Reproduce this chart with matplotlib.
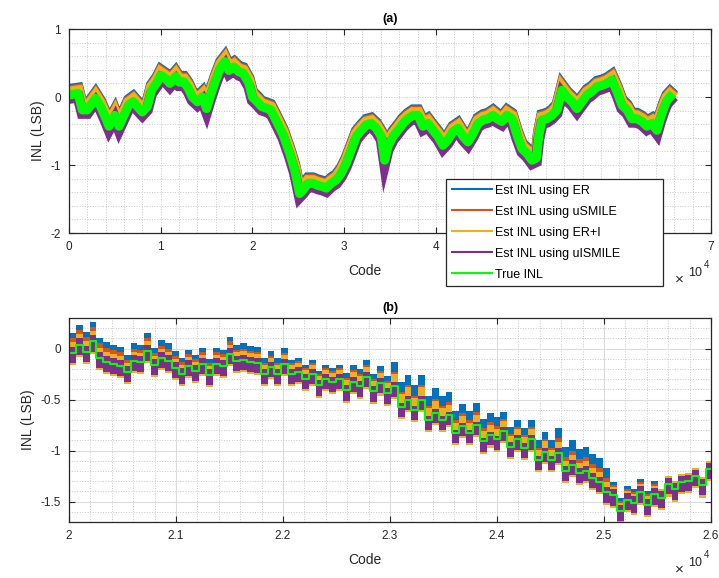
import numpy as np
import matplotlib.pyplot as plt
from matplotlib.lines import Line2D
from matplotlib.ticker import MultipleLocator

plt.rcParams['font.family'] = ['Liberation Sans', 'DejaVu Sans']

names = ['Est INL using ER', 'Est INL using uSMILE', 'Est INL using ER+I',
         'Est INL using uISMILE', 'True INL']
colors = ['#0072BD', '#D95319', '#EDB120', '#7E2F8E', '#00FF00']

# (a) true INL
code_a = [0, 1000, 1450, 2000, 2900, 3450, 4000, 4360, 5000, 5450, 6000, 6500,
          7000, 7450, 8000, 8540, 9000, 9630, 10000, 10540, 11000, 11630, 12000,
          12540, 13000, 13450, 14000, 14540, 15000, 15450, 16000, 16540, 17000,
          17440, 18000, 18530, 19000, 19620, 20000, 20530, 21000, 21620, 22000,
          22530, 23000, 23333, 24060, 24600, 25150, 25500, 26060, 26600, 27150,
          27690, 28060, 28600, 29150, 29690, 30240, 30780, 31330, 31870, 32420,
          32960, 33510, 34050, 34420, 34780, 35330, 35870, 36420, 36960, 37500,
          38050, 38600, 39140, 39690, 40230, 40780, 41320, 41870, 42410, 42960,
          43500, 44050, 44590, 45140, 45680, 46230, 46665, 47210, 47755, 48300,
          48845, 49390, 49935, 50480, 50950, 51210, 51570, 52120, 52660, 53210,
          53750, 54300, 54840, 55390, 55930, 56480, 57020, 57570, 58110, 58660,
          59200, 59750, 60290, 60840, 61380, 61930, 62470, 63020, 63560, 64110,
          64470, 64840, 65200, 65535]
inl_a = [0.03, 0.05, -0.19, -0.19, -0.02, -0.14, -0.31, -0.43, -0.27, -0.43, -0.27, -0.12,
         -0.07, -0.14, -0.22, -0.14, 0.10, 0.22, 0.32, 0.27, 0.20, 0.30, 0.22,
         0.22, 0.13, 0.00, -0.07, 0.00, -0.17, 0.03, 0.25, 0.44, 0.52,
         0.39, 0.44, 0.37, 0.35, 0.20, 0.00, -0.07, -0.14, -0.17, -0.19,
         -0.33, -0.46, -0.55, -0.83, -1.07, -1.42, -1.37, -1.27, -1.27, -1.30,
         -1.32, -1.34, -1.27, -1.22, -1.12, -0.97, -0.78, -0.58, -0.49, -0.41,
         -0.39, -0.46, -0.58, -0.93, -0.73, -0.58, -0.49, -0.39, -0.32, -0.27,
         -0.27, -0.43, -0.39, -0.49, -0.58, -0.71, -0.63, -0.51, -0.46, -0.58,
         -0.66, -0.54, -0.39, -0.34, -0.32, -0.27, -0.32, -0.36, -0.27, -0.32,
         -0.56, -0.76, -0.83, -0.93, -0.90, -0.58, -0.34, -0.32, -0.27, -0.19,
         0.10, 0.00, -0.07, -0.17, -0.07, 0.03, 0.08, 0.15, 0.17, 0.20,
         0.25, 0.08, -0.12, -0.19, -0.32, -0.32, -0.36, -0.43, -0.39, -0.49,
         -0.32, -0.17, -0.05, 0.00]
# estimate bias against the true curve in (a)
off_a = [0.08, 0.06, 0.04, -0.05]

# (b) true INL per 64-code slot, starting at code 20000
start_b = 20000
slot = 64
inl_b = [-0.04, 0.04, -0.03, 0.07, -0.09, -0.13, -0.15, -0.17, -0.23, -0.12,
         -0.13, -0.02, -0.16, -0.09, -0.12, -0.19, -0.25, -0.17, -0.22,
         -0.15, -0.26, -0.15, -0.17, -0.05, -0.12, -0.11, -0.13, -0.14, -0.25,
         -0.18, -0.25, -0.15, -0.25, -0.23, -0.30, -0.25, -0.36, -0.30,
         -0.33, -0.30, -0.41, -0.33, -0.37, -0.28, -0.42, -0.34, -0.44, -0.37,
         -0.57, -0.50, -0.60, -0.50, -0.70, -0.63, -0.70, -0.65,
         -0.83, -0.76, -0.83, -0.75, -0.91, -0.85, -0.89, -0.81, -0.96, -0.89,
         -0.97, -0.89, -1.09, -1.01, -1.09, -1.02, -1.20, -1.14, -1.22,
         -1.20, -1.27, -1.31, -1.41, -1.44, -1.59, -1.48, -1.51, -1.41, -1.53,
         -1.43, -1.46, -1.33, -1.38, -1.31, -1.30, -1.25, -1.34, -1.18]
# spread of each estimate around the true INL, per 500-code block
er_hi = [0.19, 0.17, 0.16, 0.16, 0.14, 0.17, 0.24, 0.22, 0.19, 0.24, 0.13, 0.08]
usm_hi = [0.14, 0.12, 0.12, 0.11, 0.11, 0.12, 0.14, 0.13, 0.12, 0.14, 0.10, 0.08]
eri_hi = [0.10, 0.09, 0.09, 0.09, 0.09, 0.10, 0.12, 0.10, 0.10, 0.10, 0.08, 0.08]
uis_hi = [0.06, 0.06, 0.06, 0.05, 0.05, 0.05, 0.04, 0.03, 0.04, 0.05, 0.06, 0.06]
est_lo = [-0.03, -0.08, -0.12, -0.10]

fig = plt.figure(figsize=(7.19, 5.78), dpi=100)
ax1 = fig.add_axes([69/719, 1-233/578, 642/719, 204/578])
ax2 = fig.add_axes([69/719, 1-522/578, 642/719, 204/578])

code_a = np.array(code_a)
inl_a = np.array(inl_a)
for off, c in zip(off_a, colors[:4]):
    ax1.plot(code_a, inl_a + off, color=c, lw=8, solid_joinstyle='miter')
ax1.plot(code_a, inl_a, color=colors[4], lw=6.5)

edges = start_b + slot*np.arange(len(inl_b)+1)
true_b = np.append(inl_b, inl_b[-1])
blk = np.minimum((edges - start_b)//500, 11)
for hi, lo, c in zip([er_hi, usm_hi, eri_hi, uis_hi], est_lo, colors[:4]):
    hi = np.array(hi)[blk]
    ax2.fill_between(edges, true_b + lo, true_b + hi, step='post', color=c, lw=0)
ax2.step(edges, true_b, where='post', color=colors[4], lw=1.5)

ax1.set_xlim(0, 70000)
ax1.set_ylim(-2, 1)
ax1.set_xticks(np.arange(0, 70001, 10000))
# 5 and 6 sit under the legend in the original
ax1.set_xticklabels(['0', '1', '2', '3', '4', '', '', '7'])
ax1.set_yticks([-2, -1, 0, 1])
ax1.set_yticklabels(['-2', '-1', '0', '1'])
ax1.xaxis.set_minor_locator(MultipleLocator(2000))
ax1.yaxis.set_minor_locator(MultipleLocator(0.2))
ax1.grid(which='both', ls=':', color='#c8c8c8', lw=0.7)

ax2.set_xlim(20000, 26000)
ax2.set_ylim(-1.7, 0.3)
ax2.set_xticks(np.arange(20000, 26001, 1000))
ax2.set_xticklabels(['2', '2.1', '2.2', '2.3', '2.4', '2.5', '2.6'])
ax2.set_yticks([-1.5, -1, -0.5, 0])
ax2.set_yticklabels(['-1.5', '-1', '-0.5', '0'])
ax2.xaxis.set_minor_locator(MultipleLocator(200))
ax2.yaxis.set_minor_locator(MultipleLocator(0.1))
ax2.grid(which='major', ls='-', color='#dcdcdc', lw=0.8)
ax2.grid(which='minor', ls=':', color='#c8c8c8', lw=0.7)

for ax, t in [(ax1, '(a)'), (ax2, '(b)')]:
    ax.set_axisbelow(True)
    ax.tick_params(which='major', direction='in', top=True, right=True,
                   length=4, width=0.8, labelsize=8.5, colors='#262626', pad=6)
    ax.tick_params(which='minor', length=0)
    for s in ax.spines.values():
        s.set_color('#262626')
        s.set_linewidth(0.9)
    ax.set_title(t, fontsize=9, fontweight='bold', pad=5)
    ax.set_ylabel('INL (LSB)', fontsize=10, color='#262626')
    ax.set_xlabel('Code', fontsize=10, color='#262626', labelpad=6)
    ax.xaxis.set_label_coords(0.461, -0.15)

for y in [280, 570]:
    fig.text(679/719, 1-y/578, '\u00d7', fontsize=11, ha='center', va='center', color='#262626')
    fig.text(688/719, 1-(y-7)/578, '10', fontsize=9, ha='left', va='center', color='#262626')
    fig.text(704/719, 1-(y-15)/578, '4', fontsize=7, ha='left', va='center', color='#262626')

handles = [Line2D([], [], color=c, lw=1.5) for c in colors]
leg = ax1.legend(handles, names, loc='upper left',
                 bbox_to_anchor=(446/719, 1-294/578, 217/719, 115/578),
                 bbox_transform=fig.transFigure, mode='expand', fontsize=9,
                 handlelength=3.2, handletextpad=0.3, labelspacing=0.72,
                 borderpad=0.45, fancybox=False, framealpha=1, borderaxespad=0)
leg.get_frame().set_edgecolor('#262626')
leg.get_frame().set_linewidth(0.9)

fig.savefig('out.png', dpi=100, facecolor='white')
